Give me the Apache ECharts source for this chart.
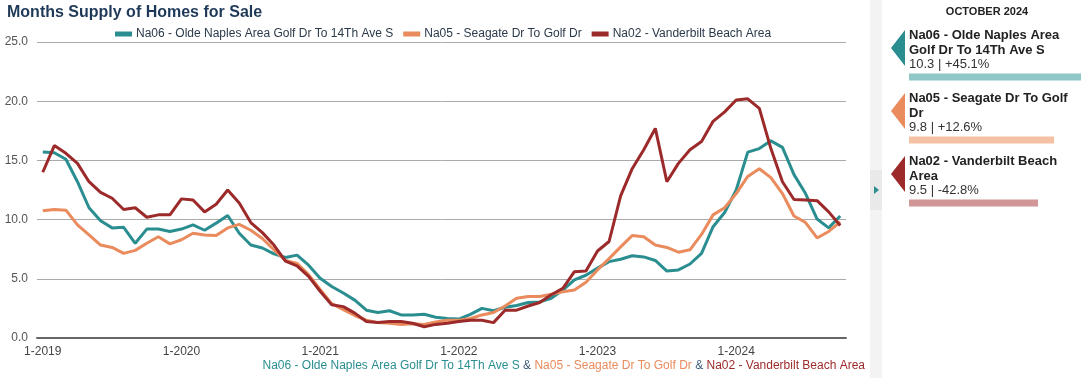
<!DOCTYPE html>
<html>
<head>
<meta charset="utf-8">
<script src="https://cdn.jsdelivr.net/npm/echarts@6/dist/echarts.min.js"></script>
<style>html,body{margin:0;padding:0;background:#fff}#c{width:1082px;height:378px}</style>
</head>
<body>
<div id="c"></div>
<script>
// ---- data ----
var years = [2019, 2020, 2021, 2022, 2023, 2024];
var categories = [];
years.forEach(function (y) { for (var m = 1; m <= 12; m++) { if (y === 2024 && m > 10) break; categories.push(m + '-' + y); } });

var seriesNames = ['Na06 - Olde Naples Area Golf Dr To 14Th Ave S', 'Na05 - Seagate Dr To Golf Dr', 'Na02 - Vanderbilt Beach Area'];
var seriesColors = ['#2a8e90', '#e98b5c', '#9c2a2a'];
var lightColors = ['#8fc6c6', '#f4c1a4', '#d19696'];

var na06 = [15.7, 15.65, 15.1, 13.2, 11.0, 9.9, 9.3, 9.35, 8.0, 9.2, 9.2, 9.0,
  9.2, 9.55, 9.1, 9.7, 10.35, 8.85, 7.85, 7.6, 7.1, 6.8, 7.0, 6.15,
  5.05, 4.35, 3.8, 3.2, 2.35, 2.15, 2.3, 1.95, 1.95, 2.0, 1.75, 1.65,
  1.6, 2.0, 2.5, 2.3, 2.6, 2.75, 3.0, 3.05, 3.35, 4.05, 4.9, 5.3,
  5.9, 6.45, 6.65, 6.95, 6.85, 6.55, 5.65, 5.75, 6.25, 7.15, 9.4, 10.6,
  12.5, 15.7, 16.0, 16.65, 16.1, 13.8, 12.2, 10.05, 9.3, 10.3];
var na05 = [10.75, 10.85, 10.8, 9.55, 8.7, 7.85, 7.65, 7.15, 7.4, 8.0, 8.55, 7.95,
  8.3, 8.85, 8.7, 8.65, 9.3, 9.6, 9.1, 8.4, 7.45, 6.55, 6.3, 5.35,
  4.1, 2.9, 2.4, 1.9, 1.5, 1.3, 1.25, 1.15, 1.2, 1.15, 1.35, 1.5,
  1.5, 1.65, 1.95, 2.15, 2.7, 3.35, 3.5, 3.5, 3.7, 3.9, 4.05, 4.7,
  5.75, 6.7, 7.7, 8.65, 8.55, 7.85, 7.65, 7.25, 7.45, 8.75, 10.4, 11.0,
  12.2, 13.65, 14.3, 13.55, 12.2, 10.3, 9.75, 8.45, 9.0, 9.8];
var na02 = [14.0, 16.25, 15.6, 14.75, 13.2, 12.3, 11.8, 10.85, 11.0, 10.2, 10.4, 10.4,
  11.75, 11.65, 10.65, 11.3, 12.5, 11.4, 9.75, 8.9, 7.85, 6.5, 6.1, 5.2,
  3.95, 2.8, 2.65, 2.1, 1.4, 1.3, 1.4, 1.4, 1.25, 0.95, 1.15, 1.25,
  1.4, 1.5, 1.5, 1.3, 2.35, 2.35, 2.7, 3.0, 3.65, 4.2, 5.6, 5.65,
  7.35, 8.15, 12.0, 14.3, 15.9, 17.7, 13.2, 14.75, 15.9, 16.6, 18.3, 19.1,
  20.1, 20.2, 19.4, 16.0, 13.2, 11.7, 11.65, 11.6, 10.65, 9.5];

var yTicks = [0, 5, 10, 15, 20, 25];
var panelTitle = 'OCTOBER 2024';
var panelNames = ['Na06 - Olde Naples Area\nGolf Dr To 14Th Ave S', 'Na05 - Seagate Dr To Golf\nDr', 'Na02 - Vanderbilt Beach\nArea'];
var panelValues = [10.3, 9.8, 9.5];
var panelChanges = ['+45.1%', '+12.6%', '-42.8%'];

// ---- chart ----
var FONT = '"Liberation Sans", Arial, Helvetica, sans-serif';
var chart = echarts.init(document.getElementById('c'), null, { renderer: 'canvas' });

var lineData = [na06, na05, na02];
var series = lineData.map(function (d, i) {
  return {
    name: seriesNames[i], type: 'line', data: d, xAxisIndex: 0, yAxisIndex: 0,
    symbol: 'none', smooth: false, z: 3 + i,
    lineStyle: { width: 3, color: seriesColors[i] }, itemStyle: { color: seriesColors[i] }
  };
});
series.push({
  type: 'bar', xAxisIndex: 1, yAxisIndex: 1, barWidth: 7, silent: true,
  data: panelValues.map(function (v, i) { return { value: v, itemStyle: { color: lightColors[i] } }; })
});

var graphics = [
  { type: 'rect', shape: { x: 870, y: 0, width: 12, height: 378 }, style: { fill: '#f3f3f3' }, silent: true },
  { type: 'rect', shape: { x: 870, y: 170, width: 12, height: 40 }, style: { fill: '#e9e9e9' }, silent: true },
  { type: 'polygon', shape: { points: [[874, 186], [879, 190], [874, 194]] }, style: { fill: '#2a8e90' }, silent: true },
  { type: 'text', x: 987, y: 12, style: { text: panelTitle, font: 'bold 11px ' + FONT, fill: '#222', align: 'center', verticalAlign: 'middle' } }
];
var baseY = [30, 93, 156];
panelNames.forEach(function (n, i) {
  var y0 = baseY[i];
  graphics.push({ type: 'polygon', shape: { points: [[891, y0 + 18], [905, y0], [905, y0 + 36]] }, style: { fill: seriesColors[i] }, silent: true });
  graphics.push({ type: 'text', x: 909, y: y0 - 2, style: { text: n, font: 'bold 13px ' + FONT, fill: '#222', lineHeight: 15, verticalAlign: 'top' } });
  graphics.push({ type: 'text', x: 909, y: y0 + 28, style: { text: panelValues[i].toFixed(1) + ' | ' + panelChanges[i], font: '13px ' + FONT, fill: '#333', verticalAlign: 'top' } });
});
graphics.push({
  type: 'text', right: 1082 - 865, top: 360,
  style: {
    text: '{a|' + seriesNames[0] + '}{s| & }{b|' + seriesNames[1] + '}{s| & }{c|' + seriesNames[2] + '}',
    font: '12px ' + FONT,
    rich: {
      a: { fill: '#2a8e90', font: '12px ' + FONT },
      b: { fill: '#e98b5c', font: '12px ' + FONT },
      c: { fill: '#9c2a2a', font: '12px ' + FONT },
      s: { fill: '#3d5a78', font: '12px ' + FONT }
    }
  }
});

chart.setOption({
  animation: false,
  textStyle: { fontFamily: FONT },
  title: { text: 'Months Supply of Homes for Sale', left: 2, top: 0, textStyle: { fontSize: 16, fontWeight: 'bold', color: '#1f3a58', fontFamily: FONT } },
  legend: {
    data: seriesNames, left: 110, top: 23, itemWidth: 17, itemHeight: 5, itemGap: 10,
    icon: 'rect', textStyle: { fontSize: 12, color: '#2b3a4a', padding: [0, 0, 0, -1] }
  },
  grid: [
    { left: 37, right: 236, top: 42, bottom: 40 },
    { left: 909, width: 172, top: 45.5, height: 189 }
  ],
  xAxis: [
    {
      type: 'category', data: categories, boundaryGap: true, gridIndex: 0,
      axisLine: { lineStyle: { color: '#666', width: 2 } },
      axisTick: { alignWithLabel: true, length: 5, lineStyle: { color: '#666', width: 2 }, interval: function (idx, v) { return v.indexOf('1-') === 0; } },
      axisLabel: { interval: function (idx, v) { return v.indexOf('1-') === 0; }, color: '#444', fontSize: 12, margin: 8 }
    },
    { type: 'value', gridIndex: 1, min: 7.1, max: 10.3, show: false }
  ],
  yAxis: [
    {
      type: 'value', min: yTicks[0], max: yTicks[yTicks.length - 1], interval: 5, gridIndex: 0,
      axisLine: { show: false }, axisTick: { show: false },
      splitLine: { lineStyle: { color: '#aaa', width: 1 } },
      axisLabel: { formatter: function (v) { return v.toFixed(1); }, color: '#555', fontSize: 12, margin: 9 }
    },
    { type: 'category', gridIndex: 1, data: ['a', 'b', 'c'], inverse: true, show: false }
  ],
  series: series,
  graphic: graphics
});
</script>
</body>
</html>
